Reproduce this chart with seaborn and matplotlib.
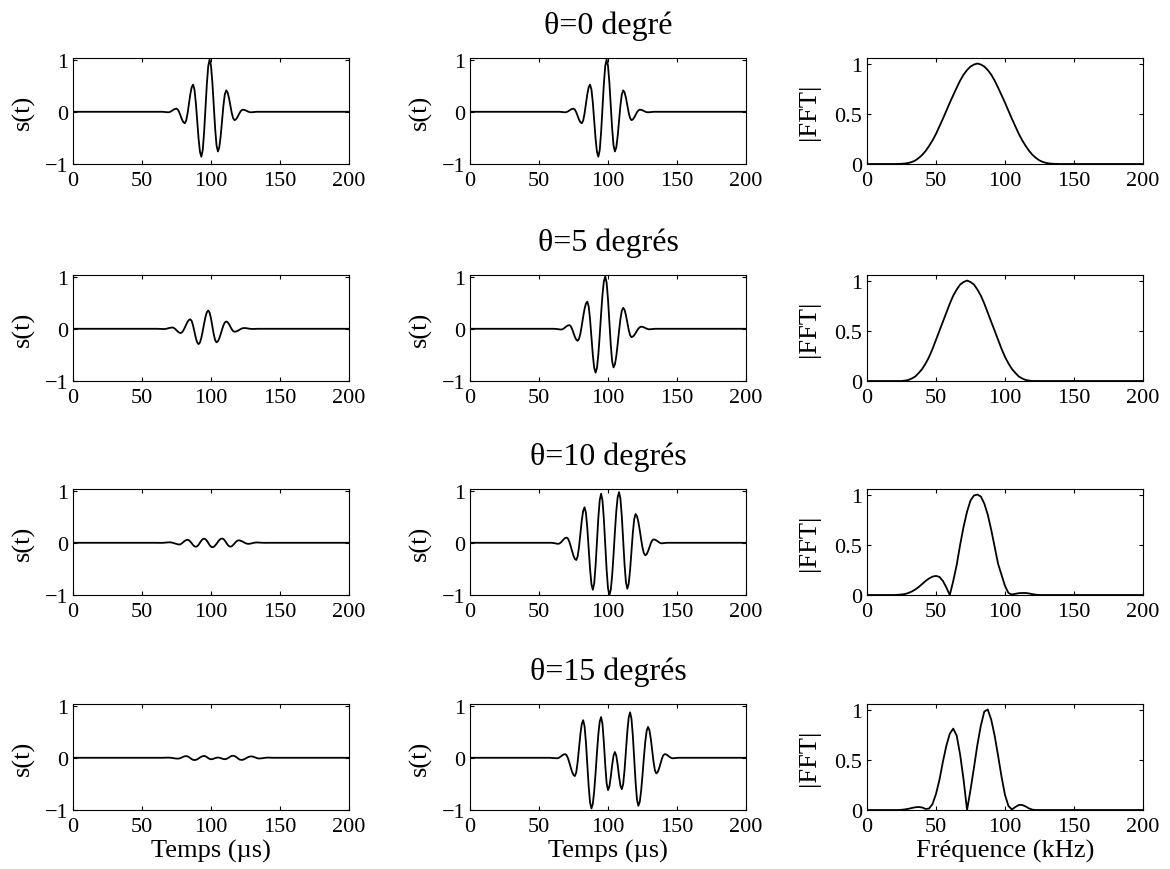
import matplotlib
matplotlib.use("Agg")
import matplotlib.pyplot as plt
import seaborn as sns

# ---------------- data ----------------
titles = ["θ=0 degré", "θ=5 degrés", "θ=10 degrés", "θ=15 degrés"]
time_ticks = [0, 50, 100, 150, 200]
sig_yticks = [-1, 0, 1]
fft_yticks = [0, 0.5, 1]
fft_yticklabels = ["0", "0.5", "1"]
xlabel_time = "Temps (µs)"
xlabel_freq = "Fréquence (kHz)"
ylabel_sig = "s(t)"
ylabel_fft = "|FFT|"

# time samples (µs): 0, then 55..155 every 1 µs, then 200
t_us = [0] + list(range(55, 156)) + [200]

s0_raw = [0,
    0, 0, 0, 0, 0, 0, 0, 0,
    0, 0, 0, -0.003, -0.005, -0.008, -0.01,
    -0.005, 0.008, 0.025, 0.043, 0.055, 0.06,
    0.041, -0.01, -0.08, -0.15, -0.201, -0.22,
    -0.17, -0.035, 0.15, 0.335, 0.47, 0.52,
    0.428, 0.175, -0.17, -0.515, -0.768, -0.86,
    -0.735, -0.395, 0.07, 0.535, 0.875, 1.0,
    0.882, 0.56, 0.12, -0.32, -0.642, -0.76,
    -0.682, -0.468, -0.175, 0.118, 0.332, 0.41,
    0.372, 0.268, 0.125, -0.018, -0.122, -0.16,
    -0.147, -0.11, -0.06, -0.01, 0.027, 0.04,
    0.037, 0.028, 0.015, 0.003, -0.007, -0.01,
    -0.008, -0.005, -0.003,
    0, 0, 0, 0, 0, 0, 0, 0, 0, 0, 0, 0, 0, 0, 0, 0, 0, 0, 0, 0, 0, 0, 0,
    0]
s0_norm = [0,
    0, 0, 0, 0, 0, 0, 0, 0,
    0, 0, 0, -0.003, -0.005, -0.008, -0.01,
    -0.005, 0.008, 0.025, 0.043, 0.055, 0.06,
    0.041, -0.01, -0.08, -0.15, -0.201, -0.22,
    -0.17, -0.035, 0.15, 0.335, 0.47, 0.52,
    0.428, 0.175, -0.17, -0.515, -0.768, -0.86,
    -0.735, -0.395, 0.07, 0.535, 0.875, 1.0,
    0.882, 0.56, 0.12, -0.32, -0.642, -0.76,
    -0.682, -0.468, -0.175, 0.118, 0.332, 0.41,
    0.372, 0.268, 0.125, -0.018, -0.122, -0.16,
    -0.147, -0.11, -0.06, -0.01, 0.027, 0.04,
    0.037, 0.028, 0.015, 0.003, -0.007, -0.01,
    -0.008, -0.005, -0.003,
    0, 0, 0, 0, 0, 0, 0, 0, 0, 0, 0, 0, 0, 0, 0, 0, 0, 0, 0, 0, 0, 0, 0,
    0]

s5_raw = [0,
    0, 0, 0, 0, 0,
    0, 0, -0.001, -0.002, -0.003, -0.004, -0.005,
    -0.003, 0.002, 0.01, 0.017, 0.022, 0.025,
    0.018, -0.002, -0.028, -0.054, -0.074, -0.081,
    -0.068, -0.031, 0.021, 0.08, 0.133, 0.169, 0.182,
    0.15, 0.063, -0.056, -0.175, -0.262, -0.294,
    -0.262, -0.173, -0.044, 0.1, 0.229, 0.318, 0.35,
    0.309, 0.198, 0.046, -0.107, -0.218, -0.259,
    -0.239, -0.184, -0.104, -0.015, 0.065, 0.12, 0.14,
    0.127, 0.091, 0.042, -0.007, -0.043, -0.056,
    -0.053, -0.043, -0.029, -0.013, 0.001, 0.011, 0.014,
    0.013, 0.01, 0.005, 0.001, -0.002, -0.004,
    -0.003, -0.002, -0.001,
    0, 0, 0, 0, 0, 0, 0, 0, 0, 0, 0, 0, 0, 0, 0, 0, 0, 0, 0, 0, 0, 0,
    0]
s5_norm = [0,
    0, 0, 0, 0, 0,
    0, 0, -0.002, -0.005, -0.008, -0.012, -0.015,
    -0.009, 0.006, 0.028, 0.049, 0.064, 0.07,
    0.05, -0.005, -0.08, -0.155, -0.21, -0.23,
    -0.193, -0.089, 0.061, 0.229, 0.379, 0.483, 0.52,
    0.429, 0.18, -0.16, -0.5, -0.749, -0.84,
    -0.749, -0.493, -0.125, 0.285, 0.653, 0.909, 1.0,
    0.883, 0.565, 0.13, -0.305, -0.623, -0.74,
    -0.684, -0.525, -0.297, -0.043, 0.185, 0.344, 0.40,
    0.363, 0.26, 0.12, -0.02, -0.123, -0.16,
    -0.15, -0.122, -0.082, -0.038, 0.002, 0.03, 0.04,
    0.037, 0.028, 0.015, 0.003, -0.007, -0.01,
    -0.008, -0.005, -0.003,
    0, 0, 0, 0, 0, 0, 0, 0, 0, 0, 0, 0, 0, 0, 0, 0, 0, 0, 0, 0, 0, 0,
    0]

s10_raw = [0,
    0, 0, 0, 0, 0, 0,
    -0.001, -0.001, -0.001, -0.002,
    -0.001, 0.001, 0.003, 0.006, 0.008, 0.009,
    0.007, 0.002, -0.006, -0.014, -0.022, -0.03, -0.034,
    -0.026, -0.008, 0.015, 0.036, 0.052, 0.058,
    0.049, 0.024, -0.009, -0.043, -0.067, -0.077,
    -0.066, -0.037, 0.002, 0.041, 0.069, 0.08,
    0.069, 0.039, -0.003, -0.044, -0.074, -0.085,
    -0.077, -0.053, -0.02, 0.017, 0.051, 0.074, 0.082,
    0.072, 0.043, 0.004, -0.036, -0.064, -0.075,
    -0.067, -0.044, -0.014, 0.016, 0.039, 0.047,
    0.043, 0.034, 0.021, 0.006, -0.008, -0.017, -0.02,
    -0.019, -0.014, -0.007, -0.001, 0.004, 0.006,
    0.005, 0.004, 0.002, 0.001, 0, -0.001,
    -0.001, 0, 0,
    0, 0, 0, 0, 0, 0, 0, 0, 0, 0, 0, 0, 0,
    0]
s10_norm = [0,
    0, 0, 0,
    0, 0, -0.003, -0.007, -0.012, -0.017, -0.02,
    -0.012, 0.01, 0.04, 0.07, 0.092, 0.10,
    0.079, 0.019, -0.067, -0.163, -0.249, -0.309, -0.33,
    -0.262, -0.078, 0.175, 0.428, 0.612, 0.68,
    0.574, 0.285, -0.11, -0.505, -0.794, -0.90,
    -0.777, -0.44, 0.02, 0.48, 0.817, 0.94,
    0.81, 0.455, -0.03, -0.515, -0.87, -1.0,
    -0.902, -0.629, -0.235, 0.205, 0.599, 0.872, 0.97,
    0.846, 0.508, 0.045, -0.418, -0.756, -0.88,
    -0.784, -0.523, -0.165, 0.193, 0.454, 0.55,
    0.511, 0.401, 0.243, 0.067, -0.091, -0.201, -0.24,
    -0.22, -0.164, -0.088, -0.011, 0.044, 0.065,
    0.06, 0.046, 0.028, 0.009, -0.005, -0.01,
    -0.008, -0.005, -0.002,
    0, 0, 0, 0, 0, 0, 0, 0, 0, 0, 0, 0, 0,
    0]

s15_raw = [0,
    0, 0, 0, 0, 0, 0, 0, 0, 0, 0, 0,
    0.001, 0.002, 0.003, 0.003, 0.002, 0,
    -0.004, -0.008, -0.012, -0.015, -0.016,
    -0.013, -0.004, 0.008, 0.02, 0.029, 0.032,
    0.027, 0.013, -0.006, -0.025, -0.039, -0.044,
    -0.04, -0.029, -0.013, 0.005, 0.02, 0.031, 0.035,
    0.029, 0.013, -0.006, -0.022, -0.028,
    -0.025, -0.017, -0.006, 0.002, 0.005,
    0.002, -0.006, -0.016, -0.024, -0.027,
    -0.023, -0.01, 0.006, 0.023, 0.035, 0.039,
    0.034, 0.019, -0.001, -0.021, -0.036, -0.041,
    -0.038, -0.029, -0.015, 0, 0.014, 0.023, 0.027,
    0.024, 0.017, 0.007, -0.004, -0.011, -0.014,
    -0.012, -0.009, -0.005, -0.001, 0.002, 0.003,
    0.003, 0.002, 0.001, 0,
    0, 0, 0, 0, 0, 0, 0, 0, 0, 0,
    0]
s15_norm = [0,
    0, 0,
    0, 0, -0.002, -0.004, -0.006, -0.008, -0.01,
    -0.005, 0.01, 0.03, 0.05, 0.065, 0.07,
    0.049, -0.009, -0.093, -0.187, -0.271, -0.329, -0.35,
    -0.278, -0.083, 0.185, 0.453, 0.648, 0.72,
    0.607, 0.298, -0.125, -0.548, -0.857, -0.97,
    -0.883, -0.64, -0.29, 0.1, 0.45, 0.693, 0.78,
    0.646, 0.296, -0.136, -0.486, -0.62,
    -0.55, -0.368, -0.142, 0.04, 0.11,
    0.042, -0.135, -0.355, -0.532, -0.6,
    -0.502, -0.233, 0.135, 0.503, 0.772, 0.87,
    0.75, 0.423, -0.025, -0.473, -0.80, -0.92,
    -0.845, -0.635, -0.333, 0.003, 0.305, 0.515, 0.59,
    0.53, 0.368, 0.145, -0.078, -0.24, -0.30,
    -0.275, -0.208, -0.115, -0.023, 0.045, 0.07,
    0.065, 0.05, 0.03, 0.01, -0.005, -0.01,
    -0.007, -0.004, -0.002,
    0, 0, 0, 0, 0,
    0]

# frequency samples (kHz): 0..150 every 2.5 kHz, then 200
f_khz = [i * 2.5 for i in range(61)] + [200]

fft0 = [0, 0, 0, 0, 0, 0, 0, 0,
    0, 0.001, 0.002, 0.005, 0.01, 0.02, 0.035, 0.06, 0.09, 0.13,
    0.18, 0.235, 0.30, 0.375, 0.45, 0.53, 0.61, 0.685, 0.76, 0.83,
    0.89, 0.935, 0.97, 0.99, 1.0, 0.99, 0.97, 0.935, 0.89, 0.83,
    0.76, 0.685, 0.61, 0.53, 0.45, 0.375, 0.30, 0.235, 0.18, 0.13,
    0.09, 0.06, 0.035, 0.02, 0.01, 0.005, 0.002, 0.001,
    0, 0, 0, 0, 0,
    0]
fft5 = [0, 0, 0, 0, 0, 0, 0, 0, 0, 0, 0,
    0.004, 0.01, 0.025, 0.045, 0.08, 0.12, 0.175, 0.24, 0.32, 0.41,
    0.50, 0.59, 0.68, 0.77, 0.85, 0.91, 0.96, 0.985, 1.0, 0.985,
    0.96, 0.91, 0.85, 0.77, 0.68, 0.59, 0.50, 0.41, 0.32, 0.24,
    0.175, 0.12, 0.08, 0.045, 0.025, 0.01, 0.004,
    0, 0, 0, 0, 0, 0, 0, 0, 0, 0, 0, 0, 0,
    0]
fft10 = [0, 0, 0, 0, 0, 0, 0, 0,
    0, 0.002, 0.005, 0.01, 0.02, 0.035, 0.055, 0.08, 0.11, 0.14,
    0.165, 0.183, 0.19, 0.18, 0.14, 0.075, 0.0,
    0.14, 0.30, 0.50, 0.68, 0.83, 0.94, 0.99, 1.0, 0.98, 0.91,
    0.8, 0.65, 0.48, 0.31, 0.20, 0.09, 0.02, 0.005, 0.012, 0.018,
    0.02, 0.02, 0.015, 0.008, 0.003, 0,
    0, 0, 0, 0, 0, 0, 0, 0, 0, 0,
    0]
fft15 = [0, 0, 0, 0, 0, 0, 0, 0, 0, 0,
    0.002, 0.006, 0.012, 0.02, 0.027, 0.03, 0.025, 0.01, 0.015, 0.06,
    0.16, 0.3, 0.48, 0.64, 0.76, 0.81, 0.74, 0.55, 0.3, 0.0,
    0.2, 0.42, 0.65, 0.84, 0.98, 1.0, 0.9, 0.74, 0.54, 0.33,
    0.15, 0.04, 0.005, 0.03, 0.05, 0.05, 0.035, 0.015, 0.003, 0,
    0, 0, 0, 0, 0, 0, 0, 0, 0, 0, 0,
    0]

raw_series = [s0_raw, s5_raw, s10_raw, s15_raw]
norm_series = [s0_norm, s5_norm, s10_norm, s15_norm]
fft_series = [fft0, fft5, fft10, fft15]

# ---------------- style ----------------
sns.set_style("ticks")
plt.rcParams.update({
    "font.family": ["Liberation Serif", "DejaVu Serif"],
    "axes.edgecolor": "black",
    "axes.linewidth": 0.8,
    "xtick.color": "black",
    "ytick.color": "black",
    "text.color": "black",
    "axes.labelcolor": "black",
    "xtick.direction": "in",
    "ytick.direction": "in",
    "xtick.top": True,
    "ytick.right": True,
    "xtick.major.size": 3,
    "ytick.major.size": 3,
    "xtick.major.width": 0.8,
    "ytick.major.width": 0.8,
    "xtick.labelsize": 16,
    "ytick.labelsize": 16,
    "xtick.major.pad": 5,
    "ytick.major.pad": 3.5,
})

W, H = 1170, 870
fig = plt.figure(figsize=(W / 100, H / 100), dpi=100)

col_left = [73, 470, 867]
row_top = [59, 276, 490, 705]
ax_w, ax_h = 276, 106

LW = 1.3
for r in range(4):
    for c in range(3):
        ax = fig.add_axes([col_left[c] / W, 1 - (row_top[r] + ax_h) / H, ax_w / W, ax_h / H])
        if c < 2:
            y = raw_series[r] if c == 0 else norm_series[r]
            sns.lineplot(x=t_us, y=y, ax=ax, color="black", linewidth=LW,
                         estimator=None, sort=False, legend=False)
            ax.set_ylim(-1, 1.03)
            ax.set_yticks(sig_yticks)
            ax.set_ylabel(ylabel_sig, fontsize=19)
            ax.yaxis.set_label_coords(-0.138, 0.5)
        else:
            sns.lineplot(x=f_khz, y=fft_series[r], ax=ax, color="black", linewidth=LW,
                         estimator=None, sort=False, legend=False)
            ax.set_ylim(0, 1.055)
            ax.set_yticks(fft_yticks)
            ax.set_yticklabels(fft_yticklabels)
            ax.set_ylabel(ylabel_fft, fontsize=19)
            ax.yaxis.set_label_coords(-0.170, 0.5)
        ax.set_xlim(0, 200)
        ax.set_xticks(time_ticks)
        for s in ax.spines.values():
            s.set_visible(True)
            s.set_color("black")
        if c == 1:
            ax.set_title(titles[r], fontsize=23, pad=18)
        if r == 3:
            ax.set_xlabel(xlabel_freq if c == 2 else xlabel_time, fontsize=19, labelpad=2)
        else:
            ax.set_xlabel("")

fig.savefig("out.png", dpi=100, facecolor="white")
